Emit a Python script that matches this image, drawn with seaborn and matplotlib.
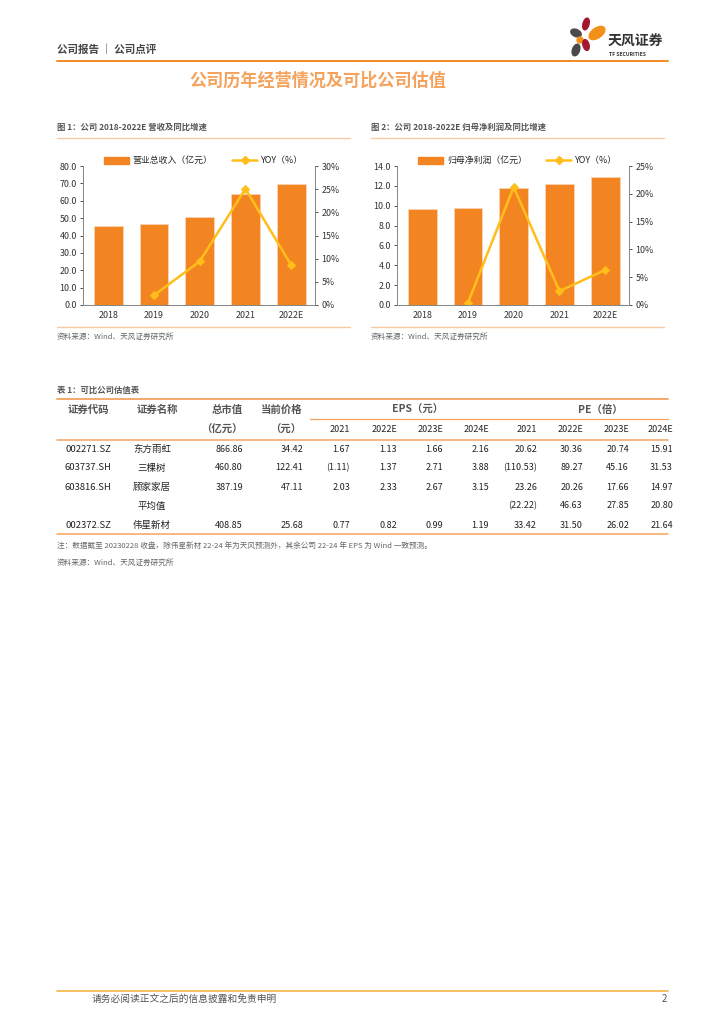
import numpy as np
import pandas as pd
import seaborn as sns
import matplotlib.pyplot as plt
from matplotlib.lines import Line2D
from matplotlib.patches import Patch, Ellipse

# chart data
years = ['2018', '2019', '2020', '2021', '2022E']
revenue = [45.6, 46.6, 50.8, 64.0, 69.5]
revenue_yoy = [np.nan, 2.1, 9.4, 25.1, 8.6]
profit = [9.70, 9.73, 11.82, 12.15, 12.93]
profit_yoy = [np.nan, 0.4, 21.2, 2.5, 6.3]

# table data
codes = ['002271.SZ', '603737.SH', '603816.SH', '', '002372.SZ']
names = ['东方雨虹', '三棵树', '顾家家居', '平均值', '伟星新材']
mktcap = ['866.86', '460.80', '387.19', '', '408.85']
price = ['34.42', '122.41', '47.11', '', '25.68']
eps = [['1.67', '1.13', '1.66', '2.16'],
       ['(1.11)', '1.37', '2.71', '3.88'],
       ['2.03', '2.33', '2.67', '3.15'],
       ['', '', '', ''],
       ['0.77', '0.82', '0.99', '1.19']]
pe = [['20.62', '30.36', '20.74', '15.91'],
      ['(110.53)', '89.27', '45.16', '31.53'],
      ['23.26', '20.26', '17.66', '14.97'],
      ['(22.22)', '46.63', '27.85', '20.80'],
      ['33.42', '31.50', '26.02', '21.64']]
est_years = ['2021', '2022E', '2023E', '2024E']

sns.set_style('white')
plt.rcParams['font.family'] = ['Noto Sans CJK SC', 'DejaVu Sans']
plt.rcParams['axes.unicode_minus'] = False

W, H = 724, 1024
BAR = '#F28522'
LINE = '#FFBE1A'
ORANGE = '#F5A35C'
fig = plt.figure(figsize=(W / 100, H / 100), dpi=100)


def fx(x):
    return x / W


def fy(y):
    return 1 - y / H


def txt(x, y, s, size=6.5, color='#333333', ha='left', weight='normal', va='center'):
    fig.text(fx(x), fy(y), s, fontsize=size, color=color, ha=ha, va=va, fontweight=weight)


def hline(x0, x1, y, color=ORANGE, lw=1.0):
    fig.add_artist(Line2D([fx(x0), fx(x1)], [fy(y), fy(y)], color=color, lw=lw,
                          transform=fig.transFigure))


# page header
txt(57, 50, '公司报告 ｜ 公司点评', size=7.6, color='#444444', weight='bold')
hline(57, 668, 61, color='#F08A24', lw=1.4)
logo = fig.add_axes([0, 0, 1, 1], zorder=-1)
logo.set_xlim(0, W)
logo.set_ylim(H, 0)
logo.axis('off')
# rough flower logo
for (cx, cy, w, h, ang, c) in [(586, 24, 6, 12, 15, '#A3182F'),
                               (597, 33, 18, 10, -35, '#F39019'),
                               (576, 33, 11, 7, 25, '#4A4A4A'),
                               (580, 40, 6, 6, 0, '#F39019'),
                               (586, 45, 6, 11, -15, '#A3182F'),
                               (576, 50, 7, 12, 20, '#4A4A4A')]:
    logo.add_patch(Ellipse((cx, cy), w, h, angle=ang, color=c))
txt(608, 42, '天风证券', size=10, color='#333333', weight='bold')
txt(609, 55, 'TF SECURITIES', size=3.6, color='#333333', weight='bold')

# title
txt(318, 81, '公司历年经营情况及可比公司估值', size=12.3, color=ORANGE, ha='center', weight='bold')


def draw_chart(left, caption, bars, yoy, bar_label, ymax, ystep, rmax):
    txt(left - 26, 127, caption, size=6, color='#555555', weight='bold')
    hline(left - 26, left + 267, 138, color='#F9C9A0', lw=1.0)
    ax = fig.add_axes([fx(left), fy(305), fx(232), 139 / H])
    df = pd.DataFrame({'year': years, 'value': bars, 'yoy': yoy})
    sns.barplot(data=df, x='year', y='value', ax=ax, color=BAR, width=0.63,
                edgecolor='#FAD3B4', linewidth=0.6, saturation=1)
    ax.set_xlim(-0.55, 4.52)
    ax.set_ylim(0, ymax)
    ax.set_yticks(np.arange(0, ymax + 0.01, ystep))
    ax.set_yticklabels([f'{v:.1f}' for v in np.arange(0, ymax + 0.01, ystep)])
    ax.set_xlabel('')
    ax.set_ylabel('')
    ax2 = ax.twinx()
    d2 = df.dropna()
    sns.lineplot(x=d2.index.to_numpy(), y=d2['yoy'].to_numpy(), ax=ax2, color=LINE,
                 lw=1.8, marker='D', markersize=4.5, markeredgecolor=LINE)
    ax2.set_ylim(0, rmax)
    ax2.set_yticks(np.arange(0, rmax + 0.1, 5))
    ax2.set_yticklabels([f'{int(v)}%' for v in np.arange(0, rmax + 0.1, 5)])
    for a in (ax, ax2):
        a.spines['top'].set_visible(False)
        for s in ['left', 'right', 'bottom']:
            a.spines[s].set_color('#888888')
            a.spines[s].set_linewidth(0.7)
        a.tick_params(axis='y', labelsize=6.4, colors='#333333', length=2.5, width=0.6,
                      pad=2, direction='out')
        a.tick_params(axis='x', labelsize=6.4, colors='#333333', length=0, pad=4)
    ax.tick_params(axis='y', left=True)
    ax2.tick_params(axis='y', right=True)
    handles = [Patch(color=BAR), Line2D([], [], color=LINE, lw=1.8, marker='D', markersize=4)]
    ax.legend(handles, [bar_label, 'YOY（%）'], loc='lower center', bbox_to_anchor=(0.52, 0.98),
              ncol=2, frameon=False, fontsize=6.4, handlelength=2.8, handleheight=0.8,
              columnspacing=2.2, handletextpad=0.4, borderaxespad=0)
    hline(left - 26, left + 267, 327, color='#F9C9A0', lw=1.0)
    txt(left - 26, 337, '资料来源：Wind、天风证券研究所', size=5.5, color='#666666')


draw_chart(83, '图 1：公司 2018-2022E 营收及同比增速', revenue, revenue_yoy,
           '营业总收入（亿元）', 80, 10, 30)
draw_chart(397, '图 2：公司 2018-2022E 归母净利润及同比增速', profit, profit_yoy,
           '归母净利润（亿元）', 14, 2, 25)

# table
txt(57, 390, '表 1：可比公司估值表', size=6, color='#555555', weight='bold')
hline(57, 668, 399, lw=1.3)
hline(310, 668, 419, lw=0.9)
hline(57, 668, 440, lw=1.1)
hline(57, 668, 534, lw=1.1)
hdr = dict(size=7.5, color='#555555', weight='bold', ha='center')
txt(88, 410, '证券代码', **hdr)
txt(157, 410, '证券名称', **hdr)
txt(227, 410, '总市值', **hdr)
txt(282, 410, '当前价格', **hdr)
txt(222, 430, '（亿元）', **hdr)
txt(286, 430, '（元）', **hdr)
txt(418, 410, 'EPS（元）', **hdr)
txt(600, 410, 'PE（倍）', **hdr)
eps_x = [350, 397, 443, 489]
pe_x = [537, 583, 629, 673]
for i, yr in enumerate(est_years):
    txt(eps_x[i], 430, yr, size=6.5, color='#222222', ha='right')
    txt(pe_x[i], 430, yr, size=6.5, color='#222222', ha='right')
row_y = [449, 468, 487, 506, 525]
for r, y in enumerate(row_y):
    txt(88, y, codes[r], size=6.8, color='#222222', ha='center')
    txt(152, y, names[r], size=6.8, color='#222222', ha='center')
    txt(243, y, mktcap[r], size=6.5, color='#222222', ha='right')
    txt(303, y, price[r], size=6.5, color='#222222', ha='right')
    for i in range(4):
        txt(eps_x[i], y, eps[r][i], size=6.5, color='#222222', ha='right')
        txt(pe_x[i], y, pe[r][i], size=6.5, color='#222222', ha='right')
txt(57, 546, '注：数据截至 20230228 收盘，除伟星新材 22-24 年为天风预测外，其余公司 22-24 年 EPS 为 Wind 一致预测。',
    size=5.5, color='#666666')
txt(57, 563, '资料来源：Wind、天风证券研究所', size=5.5, color='#666666')

# footer
hline(57, 668, 991, color='#F2B544', lw=1.2)
txt(92, 999, '请务必阅读正文之后的信息披露和免责申明', size=7, color='#555555')
txt(667, 999, '2', size=7, color='#555555', ha='right')

fig.savefig('out.png', dpi=100)
